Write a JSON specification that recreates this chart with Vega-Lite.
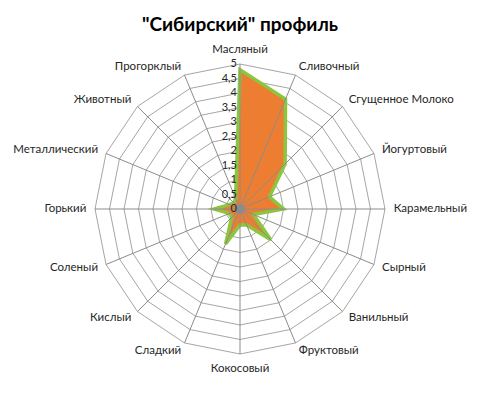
{
  "$schema": "https://vega.github.io/schema/vega-lite/v6.json",
  "autosize": "none",
  "width": 500,
  "height": 353,
  "padding": {"top": 40, "left": 0, "right": 0, "bottom": 0},
  "background": "white",
  "config": {"view": {"stroke": null}, "font": "Lato"},
  "title": {"text": "\"Сибирский\" профиль", "font": "Lato", "fontSize": 19, "fontWeight": "bold", "color": "#000000", "anchor": "middle", "frame": "group", "dx": -10, "offset": -10, "baseline": "alphabetic"},
  "datasets": {
    "profile": [
      {"i": 0, "name": "Масляный", "v": 4.8},
      {"i": 1, "name": "Сливочный", "v": 4.1},
      {"i": 2, "name": "Сгущенное Молоко", "v": 2.2},
      {"i": 3, "name": "Йогуртовый", "v": 1.1},
      {"i": 4, "name": "Карамельный", "v": 1.5},
      {"i": 5, "name": "Сырный", "v": 0.5},
      {"i": 6, "name": "Ванильный", "v": 1.5},
      {"i": 7, "name": "Фруктовый", "v": 0.6},
      {"i": 8, "name": "Кокосовый", "v": 0.55},
      {"i": 9, "name": "Сладкий", "v": 1.3},
      {"i": 10, "name": "Кислый", "v": 0.4},
      {"i": 11, "name": "Соленый", "v": 0.4},
      {"i": 12, "name": "Горький", "v": 0.9},
      {"i": 13, "name": "Металлический", "v": 0.4},
      {"i": 14, "name": "Животный", "v": 0.3},
      {"i": 15, "name": "Прогорклый", "v": 0.4}
    ],
    "rings": [
      {"level": 0.5, "k": [0,1,2,3,4,5,6,7,8,9,10,11,12,13,14,15]},
      {"level": 1, "k": [0,1,2,3,4,5,6,7,8,9,10,11,12,13,14,15]},
      {"level": 1.5, "k": [0,1,2,3,4,5,6,7,8,9,10,11,12,13,14,15]},
      {"level": 2, "k": [0,1,2,3,4,5,6,7,8,9,10,11,12,13,14,15]},
      {"level": 2.5, "k": [0,1,2,3,4,5,6,7,8,9,10,11,12,13,14,15]},
      {"level": 3, "k": [0,1,2,3,4,5,6,7,8,9,10,11,12,13,14,15]},
      {"level": 3.5, "k": [0,1,2,3,4,5,6,7,8,9,10,11,12,13,14,15]},
      {"level": 4, "k": [0,1,2,3,4,5,6,7,8,9,10,11,12,13,14,15]},
      {"level": 4.5, "k": [0,1,2,3,4,5,6,7,8,9,10,11,12,13,14,15]},
      {"level": 5, "k": [0,1,2,3,4,5,6,7,8,9,10,11,12,13,14,15]}
    ],
    "ticks": [
      {"v": 0, "t": "0"}, {"v": 0.5, "t": "0,5"}, {"v": 1, "t": "1"}, {"v": 1.5, "t": "1,5"},
      {"v": 2, "t": "2"}, {"v": 2.5, "t": "2,5"}, {"v": 3, "t": "3"}, {"v": 3.5, "t": "3,5"},
      {"v": 4, "t": "4"}, {"v": 4.5, "t": "4,5"}, {"v": 5, "t": "5"}
    ],
    "center": [{"c": 0}]
  },
  "layer": [
    {
      "data": {"name": "rings"},
      "transform": [
        {"flatten": ["k"]},
        {"calculate": "datum.level * sin(datum.k * PI / 8)", "as": "px"},
        {"calculate": "datum.level * cos(datum.k * PI / 8)", "as": "py"}
      ],
      "mark": {"type": "line", "interpolate": "linear-closed", "stroke": "#A6A6A6", "strokeWidth": 1},
      "encoding": {
        "x": {"field": "px", "type": "quantitative", "scale": {"domain": [-8.2759, 8.9655], "nice": false, "zero": false}, "axis": null},
        "y": {"field": "py", "type": "quantitative", "scale": {"domain": [-6.3448, 5.8276], "nice": false, "zero": false}, "axis": null},
        "detail": {"field": "level", "type": "nominal"},
        "order": {"field": "k", "type": "quantitative"}
      }
    },
    {
      "data": {"name": "profile"},
      "transform": [
        {"calculate": "datum.v * sin(datum.i * PI / 8)", "as": "px"},
        {"calculate": "datum.v * cos(datum.i * PI / 8)", "as": "py"}
      ],
      "mark": {"type": "line", "interpolate": "linear-closed", "fill": "#ED7D31", "stroke": "#8CC63E", "strokeWidth": 3.5},
      "encoding": {
        "x": {"field": "px", "type": "quantitative", "scale": {"domain": [-8.2759, 8.9655], "nice": false, "zero": false}, "axis": null},
        "y": {"field": "py", "type": "quantitative", "scale": {"domain": [-6.3448, 5.8276], "nice": false, "zero": false}, "axis": null},
        "order": {"field": "i", "type": "quantitative"}
      }
    },
    {
      "data": {"name": "profile"},
      "transform": [
        {"calculate": "5 * sin(datum.i * PI / 8)", "as": "sx"},
        {"calculate": "5 * cos(datum.i * PI / 8)", "as": "sy"},
        {"calculate": "0", "as": "zero"}
      ],
      "mark": {"type": "rule", "stroke": "#8C8C8C", "strokeWidth": 1},
      "encoding": {
        "x": {"field": "zero", "type": "quantitative", "scale": {"domain": [-8.2759, 8.9655], "nice": false, "zero": false}, "axis": null},
        "y": {"field": "zero", "type": "quantitative", "scale": {"domain": [-6.3448, 5.8276], "nice": false, "zero": false}, "axis": null},
        "x2": {"field": "sx"},
        "y2": {"field": "sy"}
      }
    },
    {
      "data": {"name": "center"},
      "mark": {"type": "point", "filled": true, "color": "#8C8C8C", "size": 90, "opacity": 1},
      "encoding": {
        "x": {"field": "c", "type": "quantitative", "scale": {"domain": [-8.2759, 8.9655], "nice": false, "zero": false}, "axis": null},
        "y": {"field": "c", "type": "quantitative", "scale": {"domain": [-6.3448, 5.8276], "nice": false, "zero": false}, "axis": null}
      }
    },
    {
      "data": {"name": "ticks"},
      "transform": [{"calculate": "0", "as": "zero"}],
      "mark": {"type": "text", "align": "right", "baseline": "middle", "dx": -3, "fontSize": 11, "font": "Lato", "color": "#262626"},
      "encoding": {
        "x": {"field": "zero", "type": "quantitative", "scale": {"domain": [-8.2759, 8.9655], "nice": false, "zero": false}, "axis": null},
        "y": {"field": "v", "type": "quantitative", "scale": {"domain": [-6.3448, 5.8276], "nice": false, "zero": false}, "axis": null},
        "text": {"field": "t", "type": "nominal"}
      }
    },
    {
      "data": {"name": "profile"},
      "transform": [
        {"filter": "datum.i >= 1 && datum.i <= 7"},
        {"calculate": "5.3 * sin(datum.i * PI / 8)", "as": "lx"},
        {"calculate": "5.3 * cos(datum.i * PI / 8)", "as": "ly"}
      ],
      "mark": {"type": "text", "align": "left", "baseline": "middle", "fontSize": 11.5, "font": "Lato", "color": "#262626"},
      "encoding": {
        "x": {"field": "lx", "type": "quantitative", "scale": {"domain": [-8.2759, 8.9655], "nice": false, "zero": false}, "axis": null},
        "y": {"field": "ly", "type": "quantitative", "scale": {"domain": [-6.3448, 5.8276], "nice": false, "zero": false}, "axis": null},
        "text": {"field": "name", "type": "nominal"}
      }
    },
    {
      "data": {"name": "profile"},
      "transform": [
        {"filter": "datum.i >= 9"},
        {"calculate": "5.3 * sin(datum.i * PI / 8)", "as": "lx"},
        {"calculate": "5.3 * cos(datum.i * PI / 8)", "as": "ly"}
      ],
      "mark": {"type": "text", "align": "right", "baseline": "middle", "fontSize": 11.5, "font": "Lato", "color": "#262626"},
      "encoding": {
        "x": {"field": "lx", "type": "quantitative", "scale": {"domain": [-8.2759, 8.9655], "nice": false, "zero": false}, "axis": null},
        "y": {"field": "ly", "type": "quantitative", "scale": {"domain": [-6.3448, 5.8276], "nice": false, "zero": false}, "axis": null},
        "text": {"field": "name", "type": "nominal"}
      }
    },
    {
      "data": {"name": "profile"},
      "transform": [
        {"filter": "datum.i == 0"},
        {"calculate": "5.3 * sin(datum.i * PI / 8)", "as": "lx"},
        {"calculate": "5.3 * cos(datum.i * PI / 8)", "as": "ly"}
      ],
      "mark": {"type": "text", "align": "center", "baseline": "bottom", "fontSize": 11.5, "font": "Lato", "color": "#262626"},
      "encoding": {
        "x": {"field": "lx", "type": "quantitative", "scale": {"domain": [-8.2759, 8.9655], "nice": false, "zero": false}, "axis": null},
        "y": {"field": "ly", "type": "quantitative", "scale": {"domain": [-6.3448, 5.8276], "nice": false, "zero": false}, "axis": null},
        "text": {"field": "name", "type": "nominal"}
      }
    },
    {
      "data": {"name": "profile"},
      "transform": [
        {"filter": "datum.i == 8"},
        {"calculate": "5.3 * sin(datum.i * PI / 8)", "as": "lx"},
        {"calculate": "5.3 * cos(datum.i * PI / 8)", "as": "ly"}
      ],
      "mark": {"type": "text", "align": "center", "baseline": "top", "fontSize": 11.5, "font": "Lato", "color": "#262626"},
      "encoding": {
        "x": {"field": "lx", "type": "quantitative", "scale": {"domain": [-8.2759, 8.9655], "nice": false, "zero": false}, "axis": null},
        "y": {"field": "ly", "type": "quantitative", "scale": {"domain": [-6.3448, 5.8276], "nice": false, "zero": false}, "axis": null},
        "text": {"field": "name", "type": "nominal"}
      }
    }
  ]
}
